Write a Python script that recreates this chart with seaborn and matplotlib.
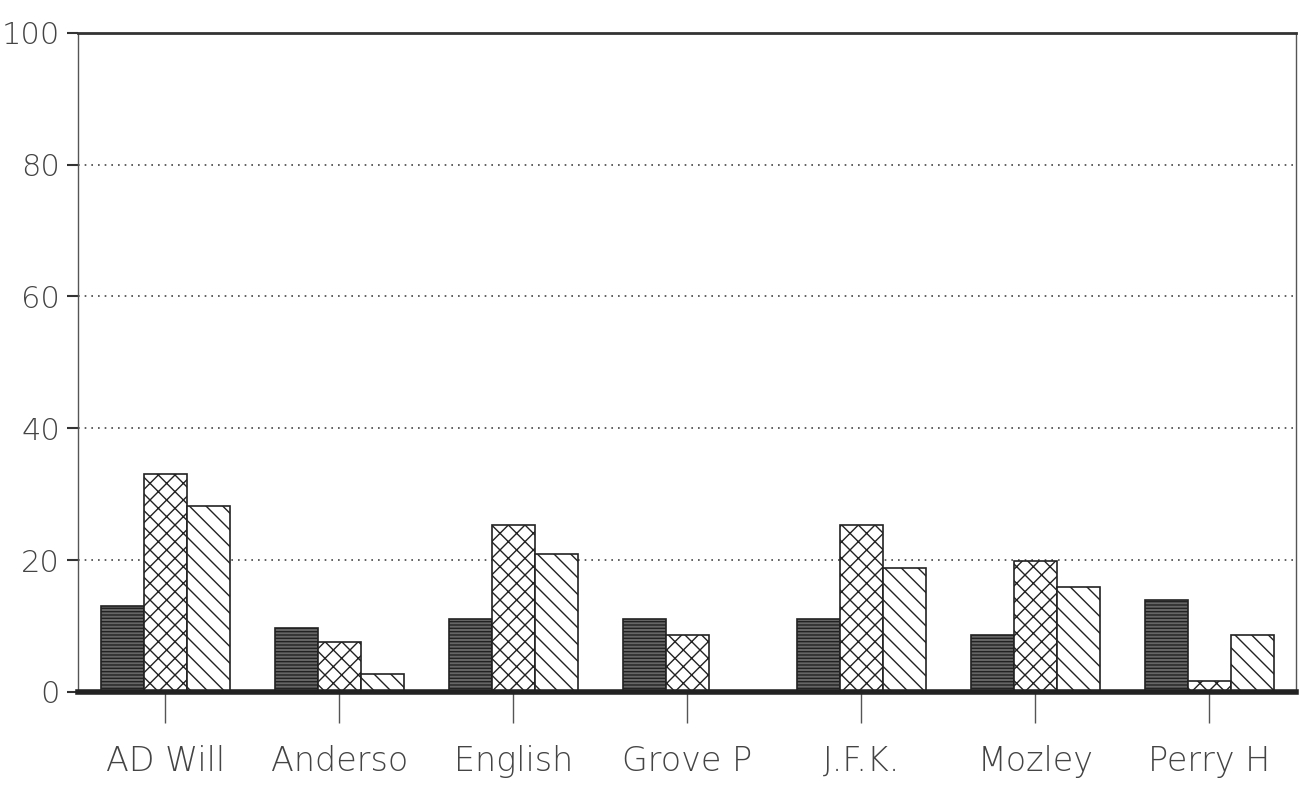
import matplotlib
matplotlib.use('Agg')
import matplotlib.pyplot as plt
import seaborn as sns
import pandas as pd

schools = ['AD Will', 'Anderso', 'English', 'Grove P', 'J.F.K.', 'Mozley', 'Perry H']
series_a = [13.0, 9.7, 11.1, 11.1, 11.1, 8.6, 14.0]
series_b = [33.1, 7.6, 25.3, 8.6, 25.3, 19.9, 1.7]
series_c = [28.2, 2.7, 20.9, 0.0, 18.8, 15.9, 8.6]
yticks = [0, 20, 40, 60, 80, 100]

df = pd.DataFrame({
    'school': schools * 3,
    'value': series_a + series_b + series_c,
    'series': ['A'] * 7 + ['B'] * 7 + ['C'] * 7,
})

sns.set_style('white')
plt.rcParams['font.family'] = ['DejaVu Sans']
plt.rcParams['hatch.linewidth'] = 1.0

fig = plt.figure(figsize=(13.03, 7.98), dpi=100)
ax = fig.add_axes([0.06, 0.133, 0.935, 0.826])

sns.barplot(data=df, x='school', y='value', hue='series', width=0.74,
            palette=['white', 'white', 'white'], edgecolor='black',
            linewidth=1.2, ax=ax, legend=False)

# hatch each series like the old plotter output
styles = [('#666666', '-----'), ('white', 'xx'), ('white', '\\\\')]
for cont, (fc, h) in zip(ax.containers, styles):
    for bar in cont:
        bar.set_facecolor(fc)
        bar.set_hatch(h)
        bar.set_edgecolor('#222222')

ax.set_ylim(0, 100)
ax.set_xlim(-0.5, 6.5)
ax.set_yticks(yticks)
ax.set_yticklabels([str(t) for t in yticks], fontsize=22, color='#444444',
                   fontweight='light')
ax.set_xticks(range(len(schools)))
ax.set_xticklabels(schools, fontsize=24, color='#444444', fontweight='light')
ax.set_xlabel('')
ax.set_ylabel('')

for y in yticks[1:-1]:
    ax.axhline(y, color='#444444', linestyle=(0, (1, 3)), linewidth=1.2, zorder=0)

ax.spines['top'].set_linewidth(2)
ax.spines['top'].set_color('#333333')
ax.spines['bottom'].set_linewidth(4)
ax.spines['bottom'].set_color('#222222')
for s in ['left', 'right']:
    ax.spines[s].set_linestyle((0, (2, 1)))
    ax.spines[s].set_linewidth(1)
    ax.spines[s].set_color('#555555')

ax.tick_params(axis='x', direction='out', length=22, width=1, color='#555555', pad=16, bottom=True)
ax.tick_params(axis='y', direction='out', length=8, width=1.5, color='#333333', pad=5, left=True)

fig.savefig('out.png', dpi=100)
